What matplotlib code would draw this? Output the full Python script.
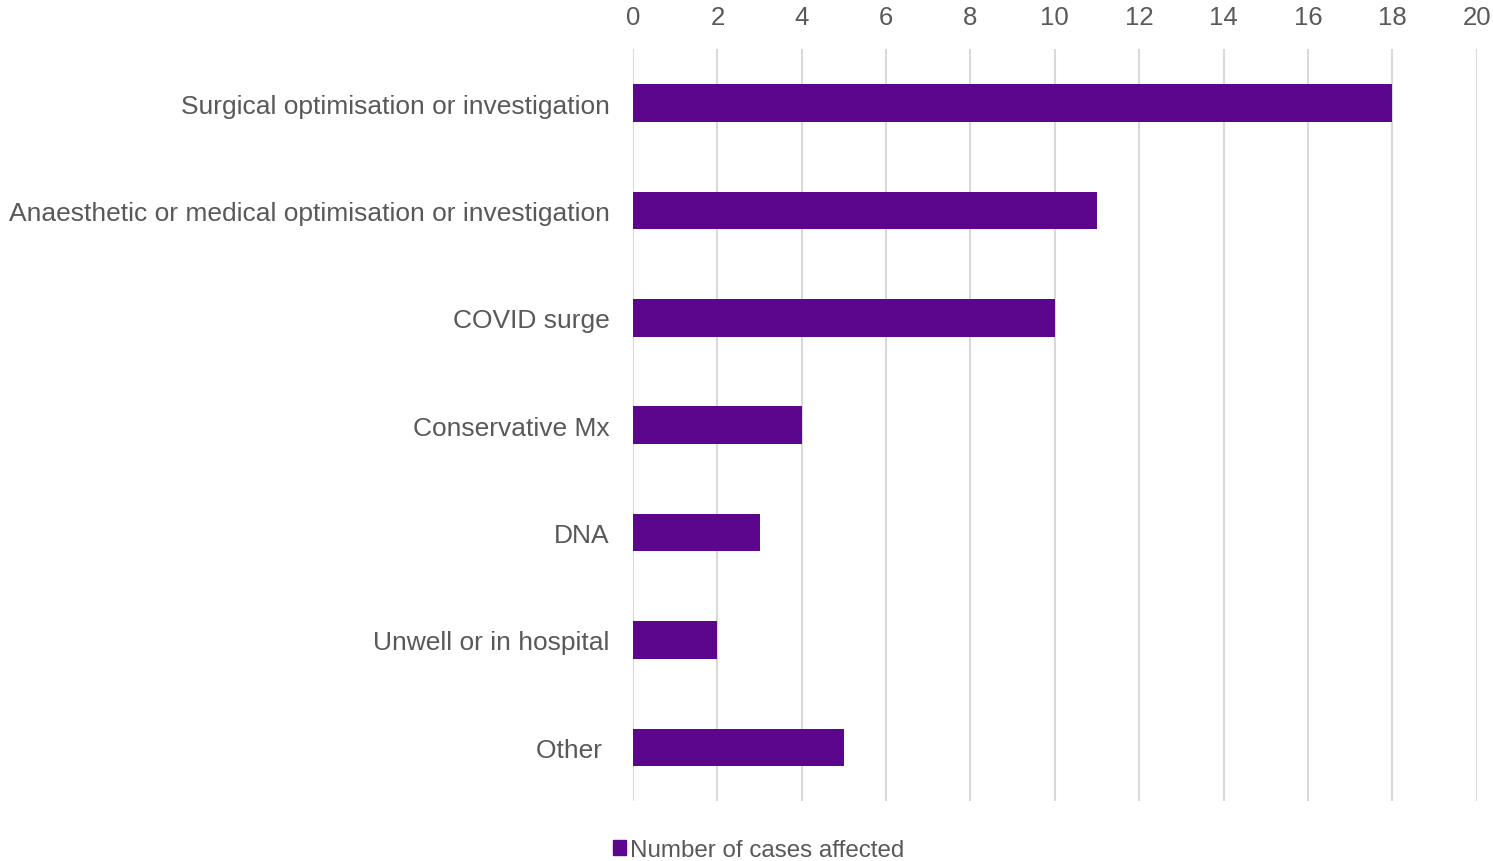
import matplotlib
matplotlib.use("Agg")
import matplotlib.pyplot as plt
from matplotlib.patches import Patch

# reasons for cancellation and number of cases
reasons = [
    "Surgical optimisation or investigation",
    "Anaesthetic or medical optimisation or investigation",
    "COVID surge",
    "Conservative Mx",
    "DNA",
    "Unwell or in hospital",
    "Other ",
]
cases = [18, 11, 10, 4, 3, 2, 5]
xticks = list(range(0, 21, 2))

bar_color = "#5B068C"
text_color = "#595959"

plt.rcParams["font.family"] = ["Liberation Sans", "DejaVu Sans"]

fig = plt.figure(figsize=(14.93, 8.62), dpi=100)
ax = fig.add_axes([0.424, 0.0696, 0.565, 0.872])

y = range(len(reasons))
ax.barh(y, cases, height=0.35, color=bar_color, zorder=3)

ax.set_xlim(0, 20)
ax.set_ylim(len(reasons) - 0.5, -0.5)
ax.set_xticks(xticks)
ax.set_yticks(list(y))
ax.set_yticklabels(reasons)
ax.xaxis.tick_top()
ax.tick_params(axis="x", length=0, pad=15, labelsize=18.5, labelcolor=text_color)
ax.tick_params(axis="y", length=0, pad=17, labelsize=19, labelcolor=text_color)
ax.grid(axis="x", color="#d9d9d9", linewidth=1.5, zorder=0)
for s in ax.spines.values():
    s.set_visible(False)

# legend under the plot
handle = Patch(color=bar_color, label="Number of cases affected")
fig.legend(handles=[handle], loc="lower left", bbox_to_anchor=(0.396, -0.025),
           frameon=False, fontsize=17.4, labelcolor=text_color,
           handlelength=0.55, handleheight=0.55, handletextpad=0.15)

fig.savefig("out.png", dpi=100)
